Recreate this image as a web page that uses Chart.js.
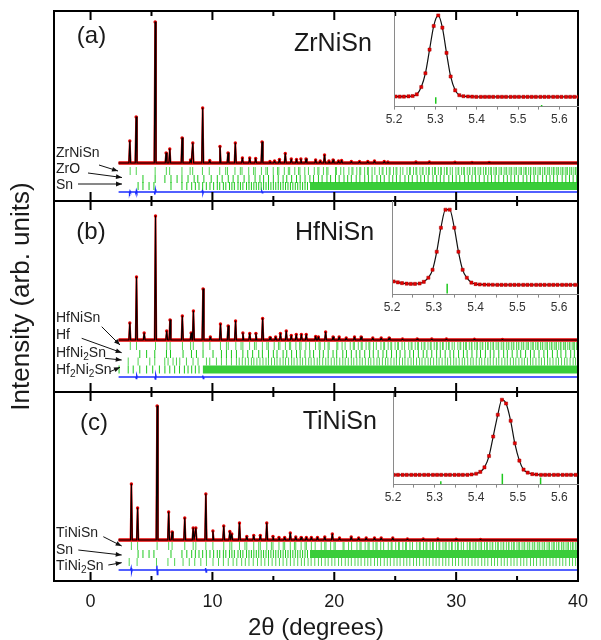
<!DOCTYPE html>
<html><head><meta charset="utf-8">
<script src="https://cdn.jsdelivr.net/npm/chart.js@4.4.1/dist/chart.umd.min.js"></script>
<style>
html,body{margin:0;padding:0;background:#fff;overflow:hidden}
#fig{position:relative;width:601px;height:640px;background:#fff}
#fig canvas{position:absolute}
</style></head><body>
<div id="fig">
<canvas id="pa"></canvas><canvas id="pc"></canvas><canvas id="pb"></canvas>
<canvas id="ia"></canvas><canvas id="ib"></canvas><canvas id="ic"></canvas>
</div>
<script>
// ---------------- DATA ----------------
const majorTicks = [0, 10, 20, 30, 40];
const xTickLabels = ['0', '10', '20', '30', '40'];
const minorTicks = [5, 15, 25, 35];
const insetTickVals = [5.2, 5.25, 5.3, 5.35, 5.4, 5.45, 5.5, 5.55, 5.6];
const insetTickLabels = ['5.2', '', '5.3', '', '5.4', '', '5.5', '', '5.6'];

// (a) ZrNiSn – peak positions (deg) and heights above background
const A_pos = [3.22,3.74,5.30,6.20,6.50,7.51,8.20,8.39,9.20,9.78,10.62,11.28,11.88,12.46,13.06,13.55,14.07,14.72,15.10,15.50,15.98,16.47,16.90,17.26,17.68,18.47,18.85,19.20,19.56,19.90,20.35,20.60,21.40,22.07,22.75,23.30,24.10,24.40,26.70,27.80,29.90,31.30,32.70];
const A_int = [22,46,141,10,14,25,3,20,55,2.5,16.5,10,20,5,5,4.5,21,1.5,2,3.5,9.5,4,3.5,4,4,3,2,8,2,3,2,2.5,1.5,1.5,1.5,2,1.5,1,1,1,0.7,0.5,0.5];
const A_phases = ['ZrNiSn', 'ZrO', 'Sn'];
const A_ZrNiSn = [3.25,3.75,5.30,6.22,6.49,7.50,8.17,8.38,9.18,9.74,10.60,11.09,11.24,11.85,12.29,12.43,12.98,13.38,13.51,14.02,14.39,14.52,14.99,15.34,15.45,15.90,16.23,16.34,16.76,17.07,17.18,17.58,17.88,18.36,18.65,18.74,19.11,19.38,19.48,20.10,20.18,20.53,20.78,21.20,21.45,21.53,21.85,22.09,22.17,22.49,22.72,22.80,23.10,23.33,23.70,23.93,24.00,24.29,24.51,24.58,24.86,25.07,25.14,25.42,25.63,25.97,26.17,26.24,26.50,26.70,26.77,27.03,27.22,27.29,27.54,27.73,27.80,28.05,28.23,28.30,28.54,28.73,28.79,29.03,29.21,29.27,29.51,29.69,29.98,30.16,30.22,30.45,30.62,30.68,30.91,31.08,31.13,31.36,31.53,31.58,31.80,31.97,32.02,32.24,32.41,32.46,32.67,32.84,32.89,33.10,33.26,33.31,33.52,33.68,33.73,33.94,34.09,34.15,34.35,34.50,34.56,34.76,34.91,34.96,35.16,35.31,35.36,35.56,35.70,35.75,35.95,36.10,36.14,36.34,36.48,36.53,36.72,36.87,36.91,37.10,37.25,37.29,37.48,37.62,37.67,37.85,37.99,38.04,38.22,38.36,38.41,38.59,38.72,38.77,38.95,39.09,39.13,39.31,39.44,39.49,39.66,39.80,39.84];
const A_ZrO = [4.3,5.3,6.1,6.6,7.1,7.5,8.0,8.5,8.8,9.3,9.9,10.4,10.8,11.3,11.7,12.1,12.6,13.0,13.5,13.9,14.2,14.6,15.0,15.4,15.8,16.1,16.5,16.9,17.2,17.6,18.0,18.3,18.7,19.0,19.4,19.7,20.1,20.4,20.8,21.1,21.4,21.8,22.1,22.5,22.8,23.1,23.5,23.8,24.1,24.5,24.8,25.1,25.4,25.8,26.1,26.4,26.8,27.1,27.4,27.7,28.1,28.4,28.7,29.0,29.4,29.7,30.0,30.3,30.7,31.0,31.3,31.6,31.9,32.3,32.6,32.9,33.2,33.5,33.9,34.2,34.5,34.8,35.1,35.5,35.8,36.1,36.4,36.7,37.1,37.4,37.7,38.0,38.3,38.7,39.0,39.3,39.6,39.9];
const Sn_ticks = [3.9,4.3,4.8,5.2,6.6,7.5,7.9,8.3,8.6,8.9,9.2,9.5,9.8,10.1,10.4,10.6,10.9,11.1,11.4,11.6,11.8,12.1,12.3,12.5,12.8,13.0,13.2,13.4,13.6,13.8,14.0,14.2,14.4,14.6,14.8,15.0,15.2,15.4,15.6,15.8,16.0,16.2,16.4,16.6,16.8,17.0,17.2,17.4,17.6,17.8];
const Sn_band = [18, 40];
const A_diffPos = [3.22, 3.74, 5.30, 9.20, 14.07];
const A_diffAmp = [-1, -1.5, -2.5, 1.5, 0.8];

// (b) HfNiSn
const B_pos = [3.22,3.77,4.40,5.33,6.25,6.52,7.53,8.25,8.44,9.23,9.83,10.66,11.29,11.90,12.50,13.06,13.57,14.12,14.73,15.19,15.58,16.06,16.47,16.88,17.30,17.70,18.47,18.70,19.29,19.90,20.40,20.98,21.66,22.20,23.16,23.85,24.50,25.60,26.80,28.00,29.20,31.50,33.80];
const B_int = [17,63,7,124,9,20,24,7,29,51,3,16,14,19,7,6.5,6.5,21.5,2.5,3,6.5,9,4.5,5.5,5.5,5.5,3.5,3,8,3,3,2,3,3,2,2,2,1,1,1,1,0.7,0.5];
const B_phases = ['HfNiSn', 'Hf', 'HfNi₂Sn', 'Hf₂Ni₂Sn'];
const B_HfNiSn = [3.26,3.77,5.33,6.25,6.53,7.54,8.21,8.43,9.23,9.79,10.66,11.15,11.30,11.92,12.35,12.50,13.05,13.45,13.59,14.10,14.47,14.59,15.07,15.42,15.54,15.99,16.32,16.42,16.85,17.16,17.27,17.67,17.97,18.46,18.75,18.84,19.21,19.49,19.58,20.21,20.29,20.64,20.89,21.31,21.56,21.65,21.97,22.21,22.29,22.61,22.84,22.92,23.22,23.45,23.83,24.06,24.13,24.42,24.64,24.71,24.99,25.20,25.27,25.56,25.77,26.11,26.31,26.38,26.64,26.84,26.91,27.17,27.37,27.44,27.69,27.88,27.95,28.20,28.38,28.45,28.69,28.88,28.94,29.19,29.37,29.43,29.67,29.85,30.14,30.32,30.38,30.61,30.78,30.84,31.08,31.25,31.30,31.53,31.70,31.75,31.97,32.14,32.19,32.41,32.58,32.63,32.84,33.02,33.07,33.28,33.44,33.49,33.70,33.86,33.91,34.12,34.27,34.33,34.53,34.68,34.74,34.95,35.10,35.15,35.35,35.50,35.55,35.75,35.89,35.94,36.14,36.29,36.33,36.53,36.67,36.73,36.92,37.07,37.11,37.30,37.45,37.49,37.68,37.82,37.87,38.05,38.19,38.24,38.42,38.56,38.61,38.80,38.93,38.98,39.16,39.30,39.34,39.52,39.65,39.70,39.87];
const B_Hf = [4.04,4.6,5.27,6.23,6.56,7.59,8.28,8.69,9.23,10.05,10.74,11.15,11.56,11.97,12.5,12.9,13.3,13.8,14.1,14.6,15.0,15.3,15.8,16.1,16.5,16.9,17.2,17.6,18.0,18.3,18.8,19.1,19.5,19.9,20.2,20.7,21.0,21.4,21.8,22.1,22.5,22.9,23.2,23.6,24.0,24.3,24.7,25.1,25.4,25.8,26.2,26.5,26.9,27.3,27.6,28.0,28.4,28.7,29.1,29.5,29.8,30.2,30.6,30.9,31.3,31.7,32.0,32.4,32.8,33.1,33.5,33.9,34.2,34.6,35.0,35.3,35.7,36.1,36.4,36.8,37.2,37.5,37.9,38.3,38.6,39.0,39.4,39.7];
const B_HfNi2Sn = [3.09,3.9,4.86,5.27,6.09,6.36,6.77,7.05,7.32,7.87,8.41,8.82,9.51,9.78,10.33,10.74,11.15,11.56,11.97,12.2,12.45,12.7,12.95,13.2,13.4,13.65,13.9,14.15,14.4,14.6,14.85,15.1,15.3,15.55,15.8,16.0,16.25,16.5,16.7,16.95,17.2,17.4,17.65,17.9,18.1,18.35,18.6,18.8,19.05,19.3,19.5,19.75,20.0,20.2,20.45,20.7,20.9,21.15,21.4,21.6,21.85,22.1,22.3,22.55,22.8,23.0,23.25,23.5,23.7,23.95,24.2,24.4,24.65,24.9,25.1,25.35,25.6,25.8,26.05,26.3,26.5,26.75,27.0,27.2,27.45,27.7,27.9,28.15,28.4,28.6,28.85,29.1,29.3,29.55,29.8,30.0,30.25,30.5,30.7,30.95,31.2,31.4,31.65,31.9,32.1,32.35,32.6,32.8,33.05,33.3,33.5,33.75,34.0,34.2,34.45,34.7,34.9,35.15,35.4,35.6,35.85,36.1,36.3,36.55,36.8,37.0,37.25,37.5,37.7,37.95,38.2,38.4,38.65,38.9,39.1,39.35,39.6,39.8];
const B_Hf2Ni2Sn = [2.34,3.09,3.5,4.04,4.6,5.1,5.65,6.1,6.5,6.9,7.3,7.7,8.0,8.3,8.6,8.9];
const B_Hf2Ni2Sn_band = [9.2, 40];
const B_diffPos = [3.77, 5.33, 9.23];
const B_diffAmp = [-1.5, -2, 1.5];

// (c) TiNiSn
const C_pos = [3.35,3.86,5.46,6.41,6.69,7.73,8.42,8.64,9.46,10.04,10.93,11.43,11.59,12.22,12.82,13.39,13.93,14.46,14.97,15.46,15.93,16.39,16.84,17.28,17.71,18.12,18.62,19.22,19.84,20.43,21.39,22.00,22.62,23.30,23.85,24.80,26.00,27.30,28.50,30.00,32.00];
const C_int = [56,32,134,28,8,22,12,12,46,9,14,8.5,6,17,3.5,4.5,4.5,17,3.5,2.5,2.5,7,3,2.5,2.5,2.5,2.5,3,6,2,3,2,2,2,2,2,1,1,1,0.7,0.5];
const C_phases = ['TiNiSn', 'Sn', 'TiNi₂Sn'];
const C_TiNiSn = [3.35,3.86,5.46,6.41,6.69,7.73,8.42,8.64,9.46,10.04,10.93,11.43,11.59,12.22,12.67,12.82,13.39,13.80,13.93,14.46,14.84,14.97,15.46,15.81,15.93,16.39,16.73,16.84,17.28,17.60,17.71,18.12,18.43,18.93,19.22,19.32,19.70,19.98,20.08,20.72,20.80,21.17,21.42,21.86,22.11,22.20,22.53,22.77,22.86,23.19,23.42,23.51,23.81,24.05,24.43,24.67,24.74,25.04,25.27,25.34,25.63,25.85,25.92,26.21,26.42,26.77,26.98,27.05,27.32,27.53,27.60,27.87,28.06,28.13,28.39,28.59,28.66,28.92,29.10,29.18,29.42,29.62,29.68,29.93,30.11,30.18,30.42,30.61,30.91,31.09,31.16,31.39,31.57,31.63,31.87,32.04,32.09,32.33,32.51,32.56,32.78,32.96,33.01,33.24,33.41,33.46,33.68,33.86,33.91,34.12,34.29,34.34,34.56,34.72,34.77,34.99,35.14,35.21,35.41,35.57,35.63,35.84,35.99,36.04,36.25,36.40,36.45,36.66,36.80,36.86,37.06,37.22,37.26,37.46,37.61,37.66,37.86,38.01,38.05,38.25,38.40,38.44,38.64,38.78,38.84,39.02,39.17,39.22,39.40,39.55,39.60,39.78,39.92,39.97];
const C_TiNi2Sn = [3.17,3.82,5.41,6.35,6.9,7.59,8.1,8.55,9.05,9.51,10.05,10.5,10.9,11.3,11.7,12.0,12.4,12.7,13.0,13.35,13.7,14.0,14.3,14.6,14.9,15.2,15.5,15.8,16.1,16.4,16.7,17.0,17.3,17.55,17.85,18.1,18.4,18.7,18.95,19.25,19.5,19.8,20.05,20.35,20.6,20.9,21.15,21.4,21.7,21.95,22.2,22.5,22.75,23.0,23.3,23.55,23.8,24.1,24.35,24.6,24.9,25.15,25.4,25.7,25.95,26.2,26.5,26.75,27.0,27.3,27.55,27.8,28.1,28.35,28.6,28.9,29.15,29.4,29.7,29.95,30.2,30.5,30.75,31.0,31.3,31.55,31.8,32.1,32.35,32.6,32.9,33.15,33.4,33.7,33.95,34.2,34.5,34.75,35.0,35.3,35.55,35.8,36.1,36.35,36.6,36.9,37.15,37.4,37.7,37.95,38.2,38.5,38.75,39.0,39.3,39.55,39.8];
const C_diffPos = [3.35, 5.46, 9.46];
const C_diffAmp = [2, 4.5, 2];

// Insets: zoom around the strongest reflection
const IA_x = [5.204,5.214,5.224,5.235,5.245,5.255,5.266,5.276,5.286,5.296,5.307,5.317,5.327,5.337,5.348,5.358,5.368,5.379,5.389,5.399,5.410,5.420,5.430,5.440,5.451,5.461,5.471,5.482,5.492,5.502,5.513,5.523,5.533,5.543,5.554,5.564,5.574,5.585,5.595,5.605,5.616,5.626,5.636,5.646];
const IA_y = [0.4,0.3,0.3,0.6,1,3,12,29,58,87,100,85,54,25,8,2,0.8,0.4,0.2,0,0,0,0,0,0,0,0,0,0,0,0,0,0,0,0,0,0,0,0,0,0,0,0,0];
const IA_refl = [5.301, 5.557], IA_lo = [-8.5, -12], IA_hi = [-0.5, -10];
const IB_x = [5.204,5.214,5.224,5.235,5.245,5.255,5.266,5.276,5.287,5.297,5.307,5.317,5.328,5.338,5.349,5.359,5.369,5.379,5.390,5.400,5.410,5.421,5.431,5.441,5.452,5.462,5.472,5.483,5.493,5.503,5.514,5.524,5.534,5.545,5.555,5.565,5.576,5.586,5.596,5.607,5.617,5.627,5.638,5.648];
const IB_y = [4.5,3.3,2.3,1.6,1.3,1.3,1.8,4,9.5,20,44,76,100,100,76,44,20,9.5,3,1,0.5,0.3,0.2,0.1,0,0,0,0,0,0,0,0,0,0,0,0,0,0,0,0,0,0,0,0];
const IB_refl = [5.332], IB_lo = [-11.5], IB_hi = [1.5];
const IC_x = [5.202,5.212,5.223,5.233,5.244,5.254,5.264,5.275,5.285,5.296,5.306,5.316,5.327,5.337,5.348,5.358,5.368,5.379,5.389,5.400,5.410,5.420,5.431,5.441,5.452,5.462,5.472,5.483,5.493,5.504,5.514,5.524,5.535,5.545,5.556,5.566,5.576,5.587,5.597,5.608,5.618,5.628,5.639,5.649];
const IC_y = [0,0,0,0,0,0,0,0,0,0,0,0,0,0,0,0,0,0,0.5,1.5,4,10,25,51,80,100,95,72,42,19,7,3,1,0.5,0,0,0,0,0,0,0,0,0,0];
const IC_refl = [5.315, 5.463, 5.555], IC_lo = [-12.5, -12.5, -12.5], IC_hi = [-8.5, 1.5, -3.5];

// ---------------- RENDERING ----------------
const FF = "'Liberation Sans', Arial, Helvetica, sans-serif";
Chart.defaults.font.family = FF;
Chart.defaults.color = '#1a1a1a';
Chart.defaults.animation = false;
const GREEN1 = '#52d452', GREEN2 = '#1ec81e', BAND = '#3acd3a';
const PW = 0.07, X0 = 2.3, X1 = 40, TH = 4;

function place(id, l, t, w, h) {
  const c = document.getElementById(id);
  c.width = w; c.height = h;
  c.style.left = l + 'px'; c.style.top = t + 'px';
  c.style.width = w + 'px'; c.style.height = h + 'px';
  return c;
}
function profile(pos, inten) {
  const d = [{x: X0, y: 0}];
  pos.forEach((p, i) => d.push({x: p - PW, y: 0}, {x: p, y: inten[i]}, {x: p + PW, y: 0}));
  d.push({x: X1, y: 0});
  return d;
}
function diffLine(pos, amp, off) {
  const d = [{x: X0, y: off}];
  pos.forEach((p, i) => d.push({x: p - 0.06, y: off}, {x: p - 0.02, y: off + amp[i]}, {x: p + 0.02, y: off - amp[i]}, {x: p + 0.06, y: off}));
  d.push({x: X1, y: off});
  return d;
}
function segs(pos, c, h) {
  const d = [];
  pos.forEach(p => d.push({x: p, y: c - h}, {x: p, y: c + h}, {x: p, y: null}));
  return d;
}
function segsLoHi(pos, lo, hi) {
  const d = [];
  pos.forEach((p, i) => d.push({x: p, y: lo[i]}, {x: p, y: hi[i]}, {x: p, y: null}));
  return d;
}
function drawRich(ctx, text, x, y, size) {
  let cx = x;
  const subs = '₀₁₂₃₄₅₆₇₈₉';
  for (const ch of text) {
    const k = subs.indexOf(ch);
    if (k >= 0) {
      ctx.font = (size * 0.72) + 'px ' + FF;
      ctx.fillText(String(k), cx, y + size * 0.3);
      cx += ctx.measureText(String(k)).width;
    } else {
      ctx.font = size + 'px ' + FF;
      ctx.fillText(ch, cx, y);
      cx += ctx.measureText(ch).width;
    }
  }
}
function arrow(ctx, x1, y1, x2, y2) {
  ctx.strokeStyle = '#111'; ctx.fillStyle = '#111'; ctx.lineWidth = 1;
  ctx.beginPath(); ctx.moveTo(x1, y1); ctx.lineTo(x2, y2); ctx.stroke();
  const a = Math.atan2(y2 - y1, x2 - x1), L = 6, w = 2.4;
  ctx.beginPath(); ctx.moveTo(x2, y2);
  ctx.lineTo(x2 - L * Math.cos(a) + w * Math.sin(a), y2 - L * Math.sin(a) - w * Math.cos(a));
  ctx.lineTo(x2 - L * Math.cos(a) - w * Math.sin(a), y2 - L * Math.sin(a) + w * Math.cos(a));
  ctx.closePath(); ctx.fill();
}

const decor = {
  id: 'decor',
  afterDatasetsDraw(chart, args, o) {
    const {ctx, chartArea: a, scales: {x}} = chart;
    ctx.save();
    ctx.strokeStyle = '#000'; ctx.lineWidth = 2;
    ctx.strokeRect(a.left, a.top, a.right - a.left, a.bottom - a.top);
    ctx.beginPath();
    majorTicks.forEach(v => { const p = x.getPixelForValue(v);
      ctx.moveTo(p, a.top); ctx.lineTo(p, a.top + 9); ctx.moveTo(p, a.bottom); ctx.lineTo(p, a.bottom - 9); });
    minorTicks.forEach(v => { const p = x.getPixelForValue(v);
      ctx.moveTo(p, a.top); ctx.lineTo(p, a.top + 5); ctx.moveTo(p, a.bottom); ctx.lineTo(p, a.bottom - 5); });
    ctx.stroke();
    ctx.fillStyle = '#1a1a1a'; ctx.textBaseline = 'middle';
    ctx.font = '24px ' + FF; ctx.textAlign = 'center';
    ctx.fillText(o.tag, o.tagX, a.top + o.tagY);
    ctx.font = '25px ' + FF; ctx.textAlign = 'left';
    ctx.fillText(o.name, o.nameX, a.top + o.nameY);
    ctx.fillStyle = '#222';
    o.phases.forEach((t, i) => drawRich(ctx, t, 56, a.top + o.phaseY[i], 14));
    o.arrows.forEach(r => arrow(ctx, r[0], a.top + r[1], r[2], a.top + r[3]));
    ctx.restore();
  }
};
const insetAxis = {
  id: 'insetAxis',
  afterDraw(chart) {
    const {ctx, chartArea: a} = chart;
    ctx.save(); ctx.strokeStyle = '#8a8a8a'; ctx.lineWidth = 1;
    ctx.beginPath(); ctx.moveTo(a.left + 0.5, a.top); ctx.lineTo(a.left + 0.5, a.bottom); ctx.stroke();
    ctx.restore();
  }
};

function mainDatasets(P) {
  const ds = [];
  const prof = profile(P.pos, P.int);
  ds.push({data: prof, borderColor: '#000', borderWidth: 1.1, pointRadius: 0, borderJoinStyle: 'round', order: 0});
  ds.push({data: prof, borderColor: '#e60000', borderWidth: 1.8, borderJoinStyle: 'round',
    pointRadius: c => (c.raw && c.raw.y > 0) ? 1.7 : 0, pointBackgroundColor: '#e60000', pointBorderWidth: 0, order: 1});
  ds.push({data: [{x: X0, y: 0}, {x: X1, y: 0}], borderColor: '#e60000', borderWidth: 3.6, pointRadius: 0, order: 1});
  P.rows.forEach(r => {
    ds.push({data: segs(r.ticks, r.c, TH), borderColor: r.color, borderWidth: 1, pointRadius: 0, spanGaps: false, order: 2});
    if (r.band) ds.push({data: [{x: r.band[0], y: r.c + TH}, {x: r.band[1], y: r.c + TH}], borderWidth: 0, pointRadius: 0,
      fill: {value: r.c - TH}, backgroundColor: BAND, order: 3});
  });
  ds.push({data: diffLine(P.dpos, P.damp, P.doff), borderColor: '#1a2cff', borderWidth: 1.4, pointRadius: 0, order: 2});
  return ds;
}

function mainChart(id, P, layoutPad, xOpts, yOpts) {
  return new Chart(document.getElementById(id), {
    type: 'line',
    data: {datasets: mainDatasets(P)},
    options: {
      responsive: false, animation: false, events: [],
      layout: {padding: layoutPad},
      plugins: {legend: {display: false}, tooltip: {enabled: false}, decor: P.decor},
      elements: {line: {tension: 0}},
      scales: {
        x: Object.assign({type: 'linear', min: -3, max: 40, display: false}, xOpts || {}),
        y: Object.assign({type: 'linear', min: P.ymin, max: P.ymax, display: false}, yOpts || {})
      }
    },
    plugins: [decor]
  });
}

place('pa', 0, 0, 601, 206);
place('pb', 0, 0, 601, 640);
place('pc', 0, 387, 601, 253);
place('ia', 364, 8, 230, 122);
place('ib', 362, 196, 232, 122);
place('ic', 363, 388, 231, 120);

mainChart('pa', {
  pos: A_pos, int: A_int, ymin: -38, ymax: 152,
  rows: [{ticks: A_ZrNiSn, c: -8, color: GREEN1}, {ticks: A_ZrO, c: -16, color: GREEN2}, {ticks: Sn_ticks, c: -23, color: GREEN2, band: Sn_band}],
  dpos: A_diffPos, damp: A_diffAmp, doff: -29,
  decor: {tag: '(a)', tagX: 91.5, tagY: 25, name: 'ZrNiSn', nameX: 294, nameY: 33,
    phases: A_phases, phaseY: [142, 158, 174],
    arrows: [[99, 154, 118, 160], [88, 162, 122, 166.5], [78, 173, 122, 173]]}
}, {left: 54, right: 23, top: 11, bottom: 5});

mainChart('pb', {
  pos: B_pos, int: B_int, ymin: -52, ymax: 139,
  rows: [{ticks: B_HfNiSn, c: -6, color: GREEN1}, {ticks: B_Hf, c: -14, color: GREEN2}, {ticks: B_HfNi2Sn, c: -21.5, color: GREEN1}, {ticks: B_Hf2Ni2Sn, c: -29.5, color: GREEN2, band: B_Hf2Ni2Sn_band}],
  dpos: B_diffPos, damp: B_diffAmp, doff: -37,
  decor: {tag: '(b)', tagX: 91, tagY: 31.5, name: 'HfNiSn', nameX: 295, nameY: 32,
    phases: B_phases, phaseY: [117.3, 134, 151.7, 169],
    arrows: [[101.7, 125.7, 120, 144], [81.7, 137.3, 121.7, 151.7], [105, 157.3, 121.7, 159], [110, 170.7, 120, 166.3]]}
}, {left: 0, right: 23, top: 201, bottom: 248}, null, {
  display: true,
  ticks: {display: false}, grid: {display: false, drawTicks: false}, border: {display: false},
  title: {display: true, text: 'Intensity (arb. units)', color: '#1a1a1a', font: {size: 26, lineHeight: 1.2}, padding: {top: 6.4, bottom: 16.4}}
});

mainChart('pc', {
  pos: C_pos, int: C_int, ymin: -41, ymax: 148,
  rows: [{ticks: C_TiNiSn, c: -6, color: GREEN1}, {ticks: Sn_ticks, c: -14, color: GREEN2, band: Sn_band}, {ticks: C_TiNi2Sn, c: -22, color: GREEN1}],
  dpos: C_diffPos, damp: C_diffAmp, doff: -30,
  decor: {tag: '(c)', tagX: 94, tagY: 31, name: 'TiNiSn', nameX: 302.7, nameY: 30.5,
    phases: C_phases, phaseY: [141.3, 158, 174],
    arrows: [[103.3, 144.7, 121.7, 154], [78.3, 158, 121.7, 163], [108.3, 173, 121.7, 170.7]]}
}, {left: 54, right: 23, top: 5, bottom: 0}, {
  display: true,
  afterBuildTicks: s => { s.ticks = majorTicks.map(v => ({value: v})); },
  afterFit: s => { s.height = 59; },
  grid: {display: false, drawTicks: false}, border: {display: false},
  ticks: {autoSkip: false, maxRotation: 0, padding: 10, color: '#1a1a1a', font: {size: 18, lineHeight: 1.2}, callback: (v, i) => xTickLabels[i]},
  title: {display: true, text: '2θ (degrees)', color: '#1a1a1a', font: {size: 24, lineHeight: 1}, padding: {top: 0, bottom: 0}}
});

function insetChart(id, xs, ys, refl, lo, hi, ymin, ymax) {
  return new Chart(document.getElementById(id), {
    type: 'line',
    data: {datasets: [
      {data: xs.map((x, i) => ({x, y: ys[i]})), borderColor: '#111', borderWidth: 1.2, cubicInterpolationMode: 'monotone',
        pointStyle: 'rect', pointRadius: 2.2, pointBackgroundColor: '#e60000', pointBorderColor: '#a00000', pointBorderWidth: 0.5, order: 0},
      {data: segsLoHi(refl, lo, hi), borderColor: GREEN2, borderWidth: 1.5, pointRadius: 0, spanGaps: false, order: 1}
    ]},
    options: {
      responsive: false, animation: false, events: [],
      layout: {padding: {left: 30, right: 16, top: 5, bottom: 0}},
      plugins: {legend: {display: false}, tooltip: {enabled: false}},
      scales: {
        x: {type: 'linear', min: 5.2, max: 5.645,
          afterBuildTicks: s => { s.ticks = insetTickVals.map(v => ({value: v})); },
          ticks: {autoSkip: false, maxRotation: 0, padding: 3, color: '#333', font: {size: 12}, callback: (v, i) => insetTickLabels[i]},
          grid: {display: true, drawOnChartArea: false, drawTicks: true, tickLength: 3, color: '#888'},
          border: {display: true, color: '#888', width: 1}},
        y: {type: 'linear', min: ymin, max: ymax, display: false}
      }
    },
    plugins: [insetAxis]
  });
}
insetChart('ia', IA_x, IA_y, IA_refl, IA_lo, IA_hi, -12, 103);
insetChart('ib', IB_x, IB_y, IB_refl, IB_lo, IB_hi, -13, 111.6);
insetChart('ic', IC_x, IC_y, IC_refl, IC_lo, IC_hi, -13, 109);
</script>
</body></html>
